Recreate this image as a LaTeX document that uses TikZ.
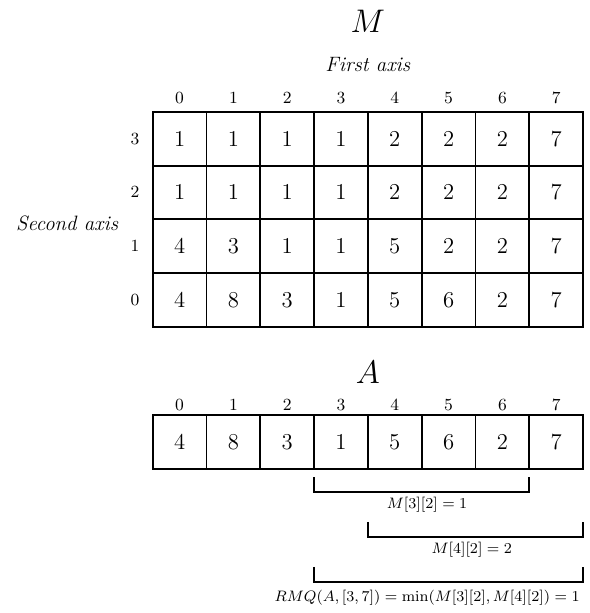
\documentclass[tikz,border=0pt]{standalone}
\usepackage{amsmath}
\usetikzlibrary{calc}

\begin{document}
\begin{tikzpicture}[
  cell/.style={draw, line width=1pt, minimum size=1cm, inner sep=0pt, outer sep=0pt, font=\fontsize{12}{14}\selectfont},
  idx/.style={font=\fontsize{9}{11}\selectfont},
  axisname/.style={font=\fontsize{11}{13}\selectfont\itshape},
  title/.style={font=\fontsize{16}{19}\selectfont},
  bracket/.style={line width=1pt},
  note/.style={font=\fontsize{8.5}{10}\selectfont}
]
\useasboundingbox (-2.838,-5.316) rectangle (8.110,6.078);

% table M
\node[title] (mtitle) at (4,5.69) {$M$};
\node[axisname] (first) at (4,4.87) {First axis};
\node[axisname] (second) at (-1.59,1.93) {Second axis};

\foreach \vals [count=\r from 0] in {{4,8,3,1,5,6,2,7},{4,3,1,1,5,2,2,7},{1,1,1,1,2,2,2,7},{1,1,1,1,2,2,2,7}}
  \foreach \v [count=\c from 0] in \vals
    \node[cell] (m\c\r) at (\c+0.5,\r+0.5) {$\v$};

\foreach \c in {0,...,7}
  \node[idx] (mcol\c) at (\c+0.5,4.26) {$\c$};
\foreach \r in {0,...,3}
  \node[idx] (mrow\r) at (-0.33,\r+0.5) {$\r$};

% array A
\node[title] (atitle) at (4,-0.836) {$A$};

\foreach \v [count=\c from 0] in {4,8,3,1,5,6,2,7}
  \node[cell] (a\c) at (\c+0.5,-2.14) {$\v$};
\foreach \c in {0,...,7}
  \node[idx] (acol\c) at (\c+0.5,-1.45) {$\c$};

% query ranges
\draw[bracket] ([yshift=-0.15cm]a3.south west) -- ++(0,-0.28) -| ([yshift=-0.15cm]a6.south east);
\node[note] (q1) at (5.1,-3.31) {$M[3][2]=1$};

\draw[bracket] ([yshift=-0.98cm]a4.south west) -- ++(0,-0.28) -| ([yshift=-0.98cm]a7.south east);
\node[note] (q2) at (5.93,-4.14) {$M[4][2]=2$};

\draw[bracket] ([yshift=-1.82cm]a3.south west) -- ++(0,-0.28) -| ([yshift=-1.82cm]a7.south east);
\node[note, anchor=east] (q3) at (8.06,-5.04) {$RMQ(A,[3,7])=\min(M[3][2],M[4][2])=1$};

\end{tikzpicture}
\end{document}
